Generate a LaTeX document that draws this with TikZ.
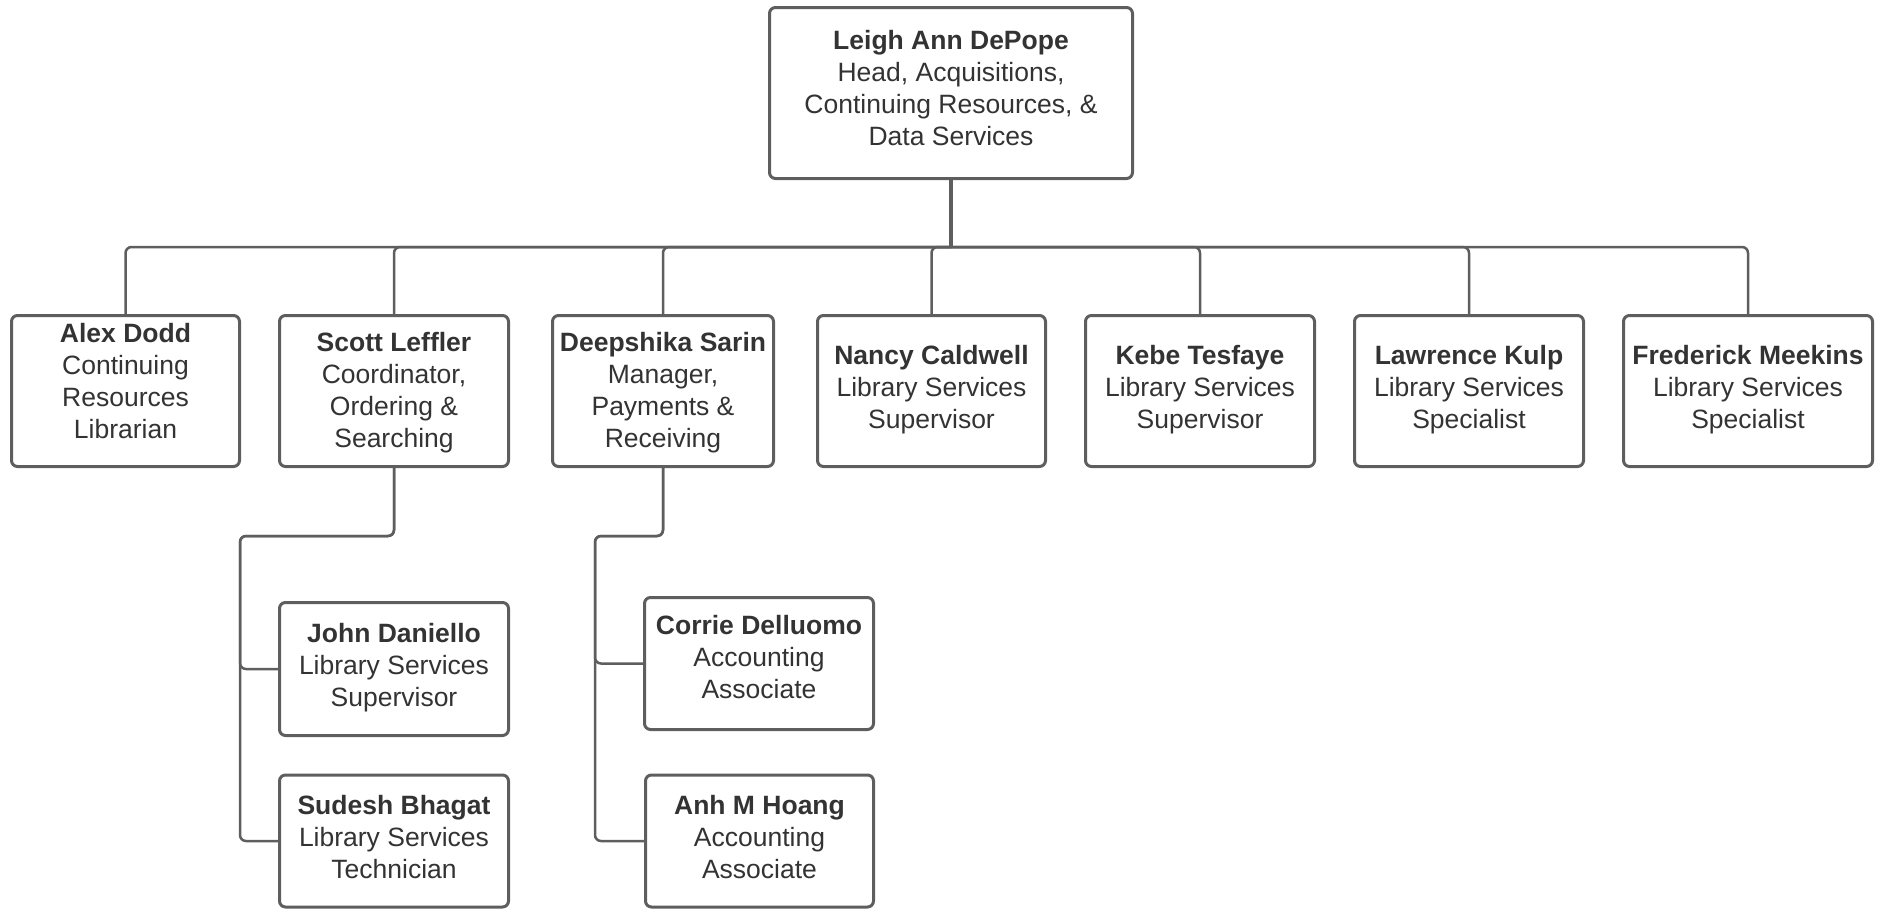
\documentclass[tikz,border=0pt]{standalone}
\usepackage{fontspec}
\setmainfont{Liberation Sans}
\definecolor{linec}{HTML}{5E5E5E}
\definecolor{txtc}{HTML}{333333}
\begin{document}
\begin{tikzpicture}[x=1pt,y=-1pt,
  box/.style={draw=linec, line width=3pt, rounded corners=6pt, fill=white, inner sep=0pt},
  lbl/.style={text=txtc, font=\fontsize{26.5}{32}\selectfont, align=center, inner sep=0pt},
  conn/.style={draw=linec, line width=2.5pt, rounded corners=6pt}]
\useasboundingbox (0,0) rectangle (1881,908);
\coordinate (busy) at (0,247);
% level 0
\node[box, minimum width=363pt, minimum height=171pt,
  label={[lbl, yshift=5pt, name=topT]center:{\textbf{Leigh Ann DePope}\\Head, Acquisitions,\\Continuing Resources, \&\\Data Services}}] (top) at (951,93) {};
% level 1
\node[box, minimum width=228pt, minimum height=151pt,
  label={[lbl, yshift=10pt, name=alexT]center:{\textbf{Alex Dodd}\\Continuing\\Resources\\Librarian}}] (alex) at (125.5,391) {};
\node[box, minimum width=229pt, minimum height=151pt,
  label={[lbl, yshift=-1.5pt, name=scottT]center:{\textbf{Scott Leffler}\\Coordinator,\\Ordering \&\\Searching}}] (scott) at (394,391) {};
\node[box, minimum width=221pt, minimum height=151pt,
  label={[lbl, yshift=-1.5pt, name=deepT]center:{\textbf{Deepshika Sarin}\\Manager,\\Payments \&\\Receiving}}] (deep) at (663,391) {};
\node[box, minimum width=228pt, minimum height=151pt,
  label={[lbl, yshift=1.5pt, name=nancyT]center:{\textbf{Nancy Caldwell}\\Library Services\\Supervisor}}] (nancy) at (931.5,391) {};
\node[box, minimum width=229pt, minimum height=151pt,
  label={[lbl, yshift=1.5pt, name=kebeT]center:{\textbf{Kebe Tesfaye}\\Library Services\\Supervisor}}] (kebe) at (1200,391) {};
\node[box, minimum width=229pt, minimum height=151pt,
  label={[lbl, yshift=1.5pt, name=lawT]center:{\textbf{Lawrence Kulp}\\Library Services\\Specialist}}] (law) at (1469,391) {};
\node[box, minimum width=249pt, minimum height=151pt,
  label={[lbl, yshift=1.5pt, name=fredT]center:{\textbf{Frederick Meekins}\\Library Services\\Specialist}}] (fred) at (1748,391) {};
% level 2
\node[box, minimum width=229pt, minimum height=133pt,
  label={[lbl, yshift=1.5pt, name=johnT]center:{\textbf{John Daniello}\\Library Services\\Supervisor}}] (john) at (394,669) {};
\node[box, minimum width=229pt, minimum height=132pt,
  label={[lbl, yshift=4pt, name=sudT]center:{\textbf{Sudesh Bhagat}\\Library Services\\Technician}}] (sud) at (394,841) {};
\node[box, minimum width=229pt, minimum height=132pt,
  label={[lbl, yshift=6pt, name=corT]center:{\textbf{Corrie Delluomo}\\Accounting\\Associate}}] (cor) at (759,663.5) {};
\node[box, minimum width=228pt, minimum height=132pt,
  label={[lbl, yshift=4pt, name=anhT]center:{\textbf{Anh M Hoang}\\Accounting\\Associate}}] (anh) at (759.5,841) {};
% connectors level 0 -> 1
\draw[conn, line width=3.5pt, rounded corners=0pt] (top.south) -- (top.south |- busy);
\foreach \c in {alex,scott,deep,nancy,kebe,law,fred}
  \draw[conn] (top.south |- busy) -| (\c.north);
% level 1 -> 2
\coordinate (sjog) at (240,536);
\coordinate (djog) at (595,536);
\draw[conn] (scott.south) |- (sjog) |- (john.west);
\draw[conn] (scott.south) |- (sjog) |- (sud.west);
\draw[conn] (deep.south) |- (djog) |- (cor.west);
\draw[conn] (deep.south) |- (djog) |- (anh.west);
\end{tikzpicture}
\end{document}
